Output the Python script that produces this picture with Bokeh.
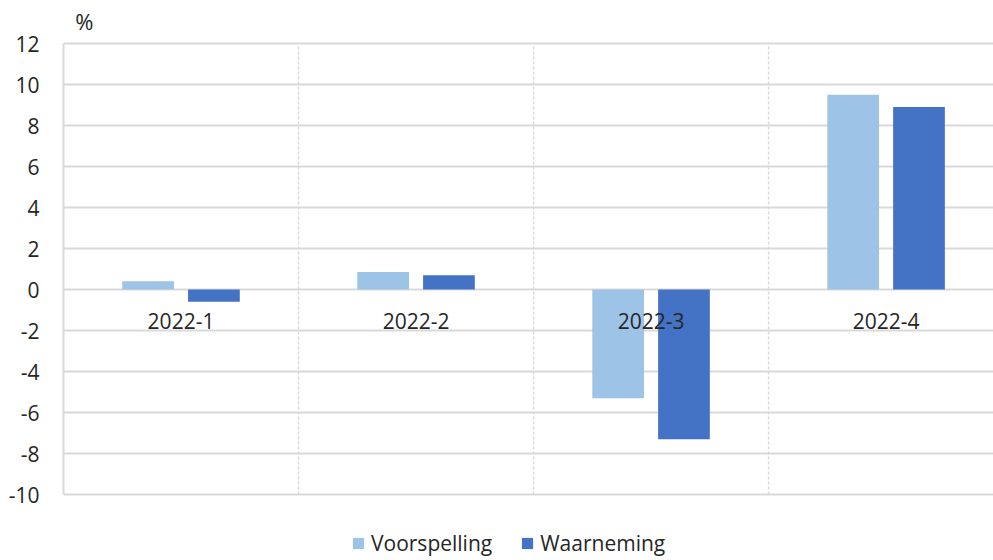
from bokeh.plotting import figure
from bokeh.models import Range1d, FixedTicker, Legend, LegendItem, Label, ColumnDataSource
from bokeh.transform import dodge
from bokeh.core.properties import value
from bokeh.embed import file_html
from bokeh.resources import INLINE

categories = ["2022-1", "2022-2", "2022-3", "2022-4"]
voorspelling = [0.4, 0.85, -5.3, 9.5]
waarneming = [-0.6, 0.7, -7.3, 8.9]
y_ticks = [-10, -8, -6, -4, -2, 0, 2, 4, 6, 8, 10, 12]
series_names = ["Voorspelling", "Waarneming"]
unit_label = "%"

FONT = "Open Sans"
FS = "21px"
TEXT_COLOR = "#262626"
GRID = "#D9D9D9"
LIGHT = "#9DC3E6"
DARK = "#4472C4"

W, H = 993, 560
PLOT_TOP, PLOT_BOTTOM = 43, 494          # pixel rows of the first/last tick
ppu = (PLOT_BOTTOM - PLOT_TOP) / (y_ticks[-1] - y_ticks[0])
y_hi = y_ticks[-1] + PLOT_TOP / ppu
y_lo = y_ticks[0] - (H - PLOT_BOTTOM) / ppu

n = len(categories)
pos = [i + 0.5 for i in range(n)]
src = ColumnDataSource(dict(x=pos, cat=categories, v=voorspelling, w=waarneming))

p = figure(width=W, height=H, output_backend="svg", toolbar_location=None,
           x_range=Range1d(0, 3.957), y_range=Range1d(y_lo, y_hi),
           x_axis_location=None,
           min_border_left=63, min_border_right=0, min_border_top=0, min_border_bottom=0)
p.outline_line_color = None
p.background_fill_color = "white"
p.border_fill_color = "white"

# grids
p.ygrid.ticker = FixedTicker(ticks=y_ticks)
p.ygrid.grid_line_color = GRID
p.ygrid.grid_line_width = 2
p.xgrid.visible = False

# category separators (dashed vertical lines between categories)
seps = list(range(1, n))
p.segment(x0=seps, x1=seps, y0=y_ticks[0], y1=y_ticks[-1],
          line_color=GRID, line_width=1.5, line_dash="3 2")

# y axis
p.yaxis.ticker = FixedTicker(ticks=y_ticks)
p.yaxis.bounds = (y_ticks[0], y_ticks[-1])
p.yaxis.major_label_overrides = {t: str(t) for t in y_ticks}
p.yaxis.axis_line_color = GRID
p.yaxis.axis_line_width = 2
p.yaxis.major_tick_line_color = None
p.yaxis.minor_tick_line_color = None
p.yaxis.major_label_standoff = 18
p.yaxis.major_label_text_font = FONT
p.yaxis.major_label_text_font_size = FS
p.yaxis.major_label_text_color = TEXT_COLOR

r1 = p.vbar(x=dodge("x", -0.14, range=p.x_range), top="v", bottom=0, width=0.22,
            fill_color=LIGHT, line_color=None, source=src)
r2 = p.vbar(x=dodge("x", 0.14, range=p.x_range), top="w", bottom=0, width=0.22,
            fill_color=DARK, line_color=None, source=src)

p.text(x="x", y=-1.56, text="cat", source=src, text_align="center", text_baseline="middle",
       text_font=value(FONT), text_font_size=FS, text_color=TEXT_COLOR)

p.add_layout(Label(x=0.05, y=13.1, text=unit_label, text_font=FONT, text_font_size="22px",
                   text_color=TEXT_COLOR, text_baseline="alphabetic"))

legend = Legend(items=[LegendItem(label=series_names[0], renderers=[r1]),
                       LegendItem(label=series_names[1], renderers=[r2])],
                orientation="horizontal", location=(288, 3),
                glyph_width=14, glyph_height=14, label_standoff=6, spacing=28,
                padding=0, margin=0, border_line_color=None, background_fill_alpha=0,
                label_text_font=FONT, label_text_font_size=FS, label_text_color=TEXT_COLOR)
p.add_layout(legend)

open("out.html", "w").write(file_html(p, INLINE))
